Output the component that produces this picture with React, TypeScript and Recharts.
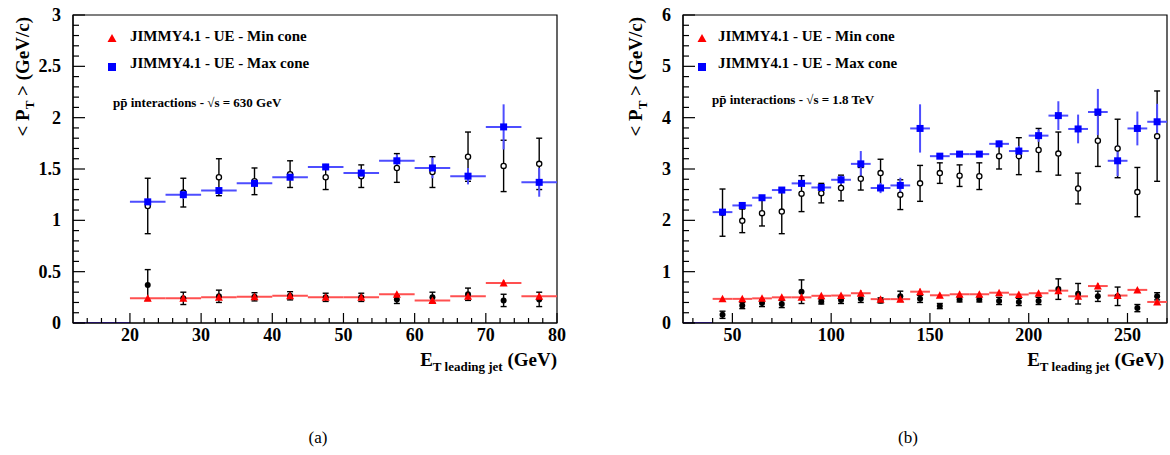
import React from "react";
import {
  ComposedChart,
  Scatter,
  Line,
  XAxis,
  YAxis,
  ErrorBar,
  ReferenceArea,
} from "recharts";

// panel (a): sqrt(s) = 630 GeV
const binsA = [22.5, 27.5, 32.5, 37.5, 42.5, 47.5, 52.5, 57.5, 62.5, 67.5, 72.5, 77.5];
const dataMaxA = [1.14, 1.27, 1.42, 1.38, 1.45, 1.42, 1.43, 1.51, 1.47, 1.62, 1.53, 1.55];
const dataMaxErrA = [0.27, 0.14, 0.18, 0.13, 0.13, 0.12, 0.11, 0.14, 0.15, 0.24, 0.25, 0.25];
const dataMinA = [0.37, 0.24, 0.26, 0.255, 0.265, 0.25, 0.25, 0.23, 0.25, 0.28, 0.22, 0.23];
const dataMinErrA = [0.15, 0.06, 0.06, 0.04, 0.04, 0.04, 0.04, 0.04, 0.05, 0.06, 0.06, 0.07];
const mcMaxA = [1.18, 1.25, 1.29, 1.36, 1.42, 1.52, 1.46, 1.58, 1.51, 1.43, 1.91, 1.37];
const mcMaxErrA = [0.03, 0.04, 0.03, 0.03, 0.03, 0.03, 0.04, 0.06, 0.1, 0.08, 0.22, 0.14];
const mcMinA = [0.24, 0.24, 0.25, 0.255, 0.265, 0.25, 0.25, 0.28, 0.22, 0.26, 0.39, 0.26];
const mcMinErrA = [0.01, 0.01, 0.01, 0.01, 0.01, 0.01, 0.01, 0.01, 0.01, 0.02, 0.03, 0.02];

// panel (b): sqrt(s) = 1.8 TeV
const binsB = [45, 55, 65, 75, 85, 95, 105, 115, 125, 135, 145, 155, 165, 175, 185, 195, 205, 215, 225, 235, 245, 255, 265];
const dataMaxB = [2.15, 1.99, 2.14, 2.17, 2.52, 2.53, 2.63, 2.81, 2.92, 2.5, 2.72, 2.92, 2.87, 2.86, 3.25, 3.25, 3.37, 3.3, 2.62, 3.55, 3.4, 2.55, 3.64];
const dataMaxErrB = [0.46, 0.23, 0.25, 0.43, 0.35, 0.19, 0.25, 0.22, 0.27, 0.29, 0.35, 0.2, 0.21, 0.26, 0.25, 0.36, 0.42, 0.42, 0.3, 0.5, 0.57, 0.48, 0.88];
const dataMinB = [0.16, 0.34, 0.39, 0.37, 0.61, 0.42, 0.45, 0.47, 0.44, 0.52, 0.47, 0.33, 0.46, 0.46, 0.43, 0.41, 0.43, 0.66, 0.57, 0.52, 0.52, 0.29, 0.52];
const dataMinErrB = [0.07, 0.06, 0.07, 0.07, 0.23, 0.05, 0.07, 0.07, 0.05, 0.1, 0.07, 0.05, 0.05, 0.05, 0.07, 0.07, 0.07, 0.2, 0.2, 0.1, 0.18, 0.07, 0.07];
const mcMaxB = [2.16, 2.29, 2.44, 2.59, 2.72, 2.64, 2.79, 3.1, 2.63, 2.68, 3.79, 3.25, 3.29, 3.29, 3.49, 3.35, 3.65, 4.04, 3.78, 4.11, 3.16, 3.79, 3.92];
const mcMaxErrB = [0.05, 0.05, 0.05, 0.05, 0.06, 0.05, 0.08, 0.25, 0.1, 0.15, 0.47, 0.04, 0.04, 0.04, 0.06, 0.1, 0.12, 0.28, 0.28, 0.45, 0.3, 0.33, 0.35];
const mcMinB = [0.47, 0.47, 0.48, 0.5, 0.5, 0.53, 0.535, 0.58, 0.465, 0.465, 0.61, 0.54, 0.56, 0.56, 0.59, 0.555, 0.58, 0.63, 0.52, 0.72, 0.535, 0.645, 0.41];
const mcMinErrB = [0.02, 0.02, 0.02, 0.02, 0.03, 0.02, 0.03, 0.06, 0.02, 0.03, 0.06, 0.02, 0.02, 0.02, 0.03, 0.02, 0.03, 0.04, 0.03, 0.06, 0.03, 0.03, 0.02];

const FONT = "Liberation Serif, Times New Roman, Times, DejaVu Serif, serif";
const serif = { fontFamily: FONT };

const range = (a: number, b: number, step: number) => {
  const out: number[] = [];
  for (let v = a; v <= b + 1e-9; v += step) out.push(Math.round(v * 100) / 100);
  return out;
};

const pts = (bins: number[], vals: number[], errs: number[], xe: number) =>
  bins.map((x, i) => ({ x, y: vals[i], e: errs[i], xe }));

const OpenCircle = (p: any) => (
  <circle cx={p.cx} cy={p.cy} r={2.6} fill="#fff" stroke="#000" strokeWidth={1.3} />
);
const FilledDot = (p: any) => <circle cx={p.cx} cy={p.cy} r={3} fill="#000" />;
const Square = (p: any) => (
  <rect x={p.cx - 3.5} y={p.cy - 3.5} width={7} height={7} fill="#0000ff" />
);
const Triangle = (p: any) => (
  <polygon
    points={`${p.cx - 4},${p.cy + 3.5} ${p.cx + 4},${p.cy + 3.5} ${p.cx},${p.cy - 4}`}
    fill="#ff0000"
  />
);

const isMajor = (v: number, step: number) =>
  Math.abs(v / step - Math.round(v / step)) < 1e-6;

const makeXTick = (major: number, firstLabel: number) => (props: any) => {
  const { x, y, payload } = props;
  const v = payload.value;
  const big = isMajor(v, major);
  return (
    <g>
      <line x1={x} x2={x} y1={y} y2={y - (big ? 10 : 5)} stroke="#000" strokeWidth={1.2} />
      {big && v >= firstLabel && (
        <text x={x} y={y + 18} textAnchor="middle" style={serif} fontWeight="bold" fontSize={18} fill="#000">
          {v}
        </text>
      )}
    </g>
  );
};

const makeYTick = (major: number) => (props: any) => {
  const { x, y, payload } = props;
  const v = payload.value;
  const big = isMajor(v, major);
  return (
    <g>
      <line x1={x} x2={x + (big ? 12 : 6)} y1={y} y2={y} stroke="#000" strokeWidth={1.2} />
      {big && (
        <text x={x - 12} y={y + 6} textAnchor="end" style={serif} fontWeight="bold" fontSize={18} fill="#000">
          {String(Math.round(v * 10) / 10)}
        </text>
      )}
    </g>
  );
};

interface PanelProps {
  bins: number[];
  halfWidth: number;
  dataMax: number[];
  dataMaxErr: number[];
  dataMin: number[];
  dataMinErr: number[];
  mcMax: number[];
  mcMaxErr: number[];
  mcMin: number[];
  mcMinErr: number[];
  xDomain: [number, number];
  yMax: number;
  xTicks: number[];
  yTicks: number[];
  xMajor: number;
  yMajor: number;
  firstLabel: number;
  marginLeft: number;
  marginRight: number;
}

const Panel = (p: PanelProps) => {
  const firstEdge = p.bins[0] - p.halfWidth;
  const empty = [
    { x: p.xDomain[0], y: 0 },
    { x: firstEdge, y: 0 },
  ];
  return (
    <ComposedChart
      width={585}
      height={455}
      margin={{ top: 15, right: p.marginRight, bottom: 102, left: p.marginLeft }}
    >
      <XAxis
        dataKey="x"
        type="number"
        domain={p.xDomain}
        allowDataOverflow
        ticks={p.xTicks}
        interval={0}
        tickSize={0}
        tickMargin={0}
        tickLine={false}
        axisLine={{ stroke: "#000", strokeWidth: 1.2 }}
        tick={makeXTick(p.xMajor, p.firstLabel)}
        height={30}
      />
      <YAxis
        type="number"
        domain={[0, p.yMax]}
        allowDataOverflow
        ticks={p.yTicks}
        interval={0}
        tickSize={0}
        tickMargin={0}
        tickLine={false}
        axisLine={{ stroke: "#000", strokeWidth: 1.2 }}
        tick={makeYTick(p.yMajor)}
        width={45}
      />
      <ReferenceArea
        x1={p.xDomain[0]}
        x2={p.xDomain[1]}
        y1={0}
        y2={p.yMax}
        fill="none"
        stroke="#000"
        strokeWidth={1.2}
      />
      <Line
        data={empty}
        dataKey="y"
        stroke="#4020c0"
        strokeWidth={2}
        dot={false}
        isAnimationActive={false}
      />
      <Scatter data={pts(p.bins, p.dataMax, p.dataMaxErr, 0)} dataKey="y" shape={OpenCircle} isAnimationActive={false}>
        <ErrorBar dataKey="e" direction="y" width={3} stroke="#000" strokeWidth={1.4} isAnimationActive={false} />
      </Scatter>
      <Scatter data={pts(p.bins, p.dataMin, p.dataMinErr, 0)} dataKey="y" shape={FilledDot} isAnimationActive={false}>
        <ErrorBar dataKey="e" direction="y" width={3} stroke="#000" strokeWidth={1.4} isAnimationActive={false} />
      </Scatter>
      <Scatter data={pts(p.bins, p.mcMax, p.mcMaxErr, p.halfWidth)} dataKey="y" shape={Square} isAnimationActive={false}>
        <ErrorBar dataKey="xe" direction="x" width={0} stroke="#4d4dff" strokeWidth={2} isAnimationActive={false} />
        <ErrorBar dataKey="e" direction="y" width={0} stroke="#4d4dff" strokeWidth={2} isAnimationActive={false} />
      </Scatter>
      <Scatter data={pts(p.bins, p.mcMin, p.mcMinErr, p.halfWidth)} dataKey="y" shape={Triangle} isAnimationActive={false}>
        <ErrorBar dataKey="xe" direction="x" width={0} stroke="#ff5050" strokeWidth={2} isAnimationActive={false} />
        <ErrorBar dataKey="e" direction="y" width={0} stroke="#ff5050" strokeWidth={2} isAnimationActive={false} />
      </Scatter>
    </ComposedChart>
  );
};

const Texts = ({ ox, energy }: { ox: number; energy: string }) => {
  const legendX = ox === 0 ? 112 : 702;
  const textX = ox === 0 ? 130 : 718;
  const noteX = ox === 0 ? 113 : 712;
  const noteY = ox === 0 ? 107 : 104;
  const yTitleX = ox === 0 ? 29 : 642;
  const xTitleRight = ox === 0 ? 557 : 1164;
  const common = { style: serif, fontWeight: "bold" as const, fill: "#000" };
  return (
    <g>
      <polygon
        points={`${legendX - 4.5},${42} ${legendX + 4.5},${42} ${legendX},${34}`}
        fill="#ff0000"
      />
      <text x={textX} y={41} fontSize={15} {...common}>
        JIMMY4.1 - UE - Min cone
      </text>
      <rect x={legendX - 4} y={63} width={8} height={8} fill="#0000ff" />
      <text x={textX} y={68} fontSize={15} {...common}>
        JIMMY4.1 - UE - Max cone
      </text>
      <text x={noteX} y={noteY} fontSize={13} {...common}>
        {"pp\u0304 interactions - \u221As = " + energy}
      </text>
      <text transform={`translate(${yTitleX},17) rotate(-90)`} textAnchor="end" fontSize={19} {...common}>
        {"< P"}
        <tspan fontSize={13} dy={5}>T</tspan>
        <tspan dy={-5}>{" > (GeV/c)"}</tspan>
      </text>
      <text x={xTitleRight} y={366} textAnchor="end" fontSize={19} {...common}>
        E
        <tspan fontSize={13} dy={5}>T leading jet</tspan>
        <tspan dy={-5}> (GeV)</tspan>
      </text>
    </g>
  );
};

export default function App() {
  return (
    <div style={{ position: "absolute", left: 0, top: 0, width: 1170, height: 455, background: "#fff" }}>
      <div style={{ position: "absolute", left: 0, top: 0 }}>
        <Panel
          bins={binsA}
          halfWidth={2.5}
          dataMax={dataMaxA}
          dataMaxErr={dataMaxErrA}
          dataMin={dataMinA}
          dataMinErr={dataMinErrA}
          mcMax={mcMaxA}
          mcMaxErr={mcMaxErrA}
          mcMin={mcMinA}
          mcMinErr={mcMinErrA}
          xDomain={[12, 80]}
          yMax={3}
          xTicks={range(14, 80, 2)}
          yTicks={range(0, 3, 0.1)}
          xMajor={10}
          yMajor={0.5}
          firstLabel={20}
          marginLeft={28}
          marginRight={28}
        />
      </div>
      <div style={{ position: "absolute", left: 585, top: 0 }}>
        <Panel
          bins={binsB}
          halfWidth={5}
          dataMax={dataMaxB}
          dataMaxErr={dataMaxErrB}
          dataMin={dataMinB}
          dataMinErr={dataMinErrB}
          mcMax={mcMaxB}
          mcMaxErr={mcMaxErrB}
          mcMin={mcMinB}
          mcMinErr={mcMinErrB}
          xDomain={[25, 270]}
          yMax={6}
          xTicks={range(30, 270, 10)}
          yTicks={range(0, 6, 0.2)}
          xMajor={50}
          yMajor={1}
          firstLabel={50}
          marginLeft={53}
          marginRight={3}
        />
      </div>
      <svg
        width={1170}
        height={455}
        style={{ position: "absolute", left: 0, top: 0, pointerEvents: "none" }}
      >
        <Texts ox={0} energy="630 GeV" />
        <Texts ox={585} energy="1.8 TeV" />
        <text x={318} y={443} textAnchor="middle" style={serif} fontSize={17} fill="#000">
          (a)
        </text>
        <text x={908} y={443} textAnchor="middle" style={serif} fontSize={17} fill="#000">
          (b)
        </text>
      </svg>
    </div>
  );
}
